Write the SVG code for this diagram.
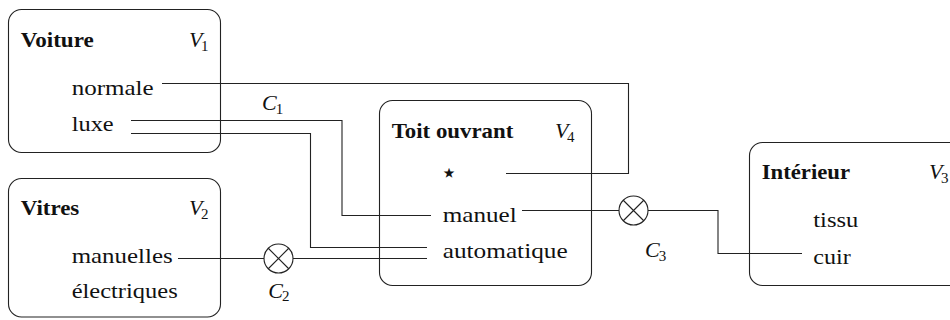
<svg xmlns="http://www.w3.org/2000/svg" width="950" height="320" viewBox="0 0 950 320">
  <style>
    .box { fill: #fff; stroke: #222; stroke-width: 1.1; }
    .wire { fill: none; stroke: #222; stroke-width: 1.1; }
    .title { font-family: "Liberation Serif", "Times New Roman", serif; font-size: 22px; font-weight: bold; fill: #111; }
    .item { font-family: "Liberation Serif", "Times New Roman", serif; font-size: 22px; fill: #111; }
    .var { font-family: "Liberation Serif", "Times New Roman", serif; font-size: 22px; font-style: italic; fill: #111; }
    .sub { font-size: 15px; font-style: normal; }
    .star { font-family: "DejaVu Sans", sans-serif; font-size: 28px; fill: #111; }
    .op { fill: #fff; stroke: #222; stroke-width: 1.1; }
  </style>

  <!-- variable boxes -->
  <g id="voiture">
    <rect class="box" x="8.5" y="9.5" width="212" height="143" rx="13"/>
    <text class="title" x="20.7" y="46.7" textLength="73" lengthAdjust="spacingAndGlyphs">Voiture</text>
    <text class="var" x="189" y="46.7">V<tspan class="sub" dx="-1.5" dy="4">1</tspan></text>
    <text class="item" x="71.7" y="95" textLength="82" lengthAdjust="spacingAndGlyphs">normale</text>
    <text class="item" x="71.7" y="131" textLength="42" lengthAdjust="spacingAndGlyphs">luxe</text>
  </g>

  <g id="vitres">
    <rect class="box" x="8.5" y="178.5" width="212" height="138.5" rx="13"/>
    <text class="title" x="20.7" y="215" textLength="58.6" lengthAdjust="spacingAndGlyphs">Vitres</text>
    <text class="var" x="189" y="215">V<tspan class="sub" dx="-1.5" dy="4">2</tspan></text>
    <text class="item" x="71.7" y="263.3" textLength="101" lengthAdjust="spacingAndGlyphs">manuelles</text>
    <text class="item" x="71.7" y="298.3" textLength="106" lengthAdjust="spacingAndGlyphs">électriques</text>
  </g>

  <g id="toit-ouvrant">
    <rect class="box" x="379.5" y="100.5" width="212" height="185" rx="13"/>
    <text class="title" x="391.7" y="137.7" textLength="121.6" lengthAdjust="spacingAndGlyphs">Toit ouvrant</text>
    <text class="var" x="555" y="137.7">V<tspan class="sub" dx="-1.5" dy="4">4</tspan></text>
    <text class="star" x="449" y="182" text-anchor="middle">⋆</text>
    <text class="item" x="442.7" y="221.7" textLength="74" lengthAdjust="spacingAndGlyphs">manuel</text>
    <text class="item" x="442.7" y="258.3" textLength="125" lengthAdjust="spacingAndGlyphs">automatique</text>
  </g>

  <g id="interieur">
    <rect class="box" x="749.5" y="142.5" width="230" height="143" rx="13"/>
    <text class="title" x="761.7" y="179.3" textLength="88.3" lengthAdjust="spacingAndGlyphs">Intérieur</text>
    <text class="var" x="929" y="178.5">V<tspan class="sub" dx="-1.5" dy="4">3</tspan></text>
    <text class="item" x="813.3" y="227.3" textLength="45" lengthAdjust="spacingAndGlyphs">tissu</text>
    <text class="item" x="813.3" y="264" textLength="37.4" lengthAdjust="spacingAndGlyphs">cuir</text>
  </g>

  <!-- product operators -->
  <g id="c2">
    <circle class="op" cx="278.5" cy="258.5" r="14.5"/>
    <path class="wire" d="M268.25,248.25 L288.75,268.75 M268.25,268.75 L288.75,248.25"/>
    <text class="var" x="268.3" y="297.5">C<tspan class="sub" dx="-1" dy="3.5">2</tspan></text>
  </g>

  <g id="c3">
    <circle class="op" cx="633.5" cy="210.5" r="14.5"/>
    <path class="wire" d="M623.25,200.25 L643.75,220.75 M623.25,220.75 L643.75,200.25"/>
    <text class="var" x="645" y="257">C<tspan class="sub" dx="-1" dy="3.5">3</tspan></text>
  </g>

  <g id="c1">
    <text class="var" x="262" y="110">C<tspan class="sub" dx="-1" dy="3.5">1</tspan></text>
  </g>

  <!-- connectors -->
  <g id="connectors">
    <path class="wire" d="M162,83.5 H628.5 V173.5 H506"/>
    <path class="wire" d="M131,120.5 H342 V215.5 H431"/>
    <path class="wire" d="M131,133.5 H310.5 V247.5 H427"/>
    <path class="wire" d="M178,258.5 H264"/>
    <path class="wire" d="M293,258.5 H427"/>
    <path class="wire" d="M522,210.5 H619"/>
    <path class="wire" d="M648,210.5 H718 V253.5 H802"/>
  </g>
</svg>
